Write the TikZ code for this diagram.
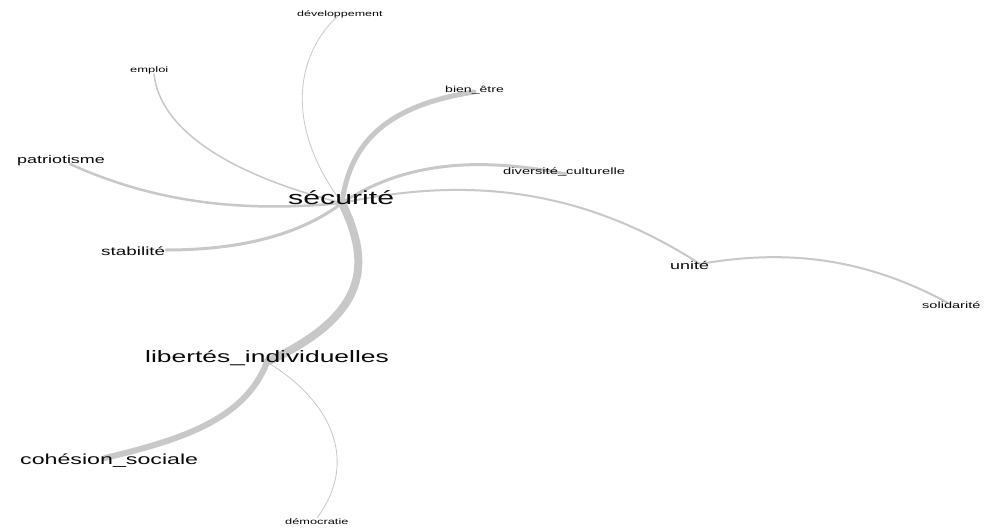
\documentclass[tikz,border=0pt]{standalone}
\usepackage{fontspec}
\usepackage{graphicx}
\setmainfont{Liberation Sans}
\usetikzlibrary{backgrounds}
\definecolor{edgecol}{RGB}{200,200,200}
\definecolor{txtcol}{RGB}{10,10,10}
\newcommand{\lbl}[2]{{\fontsize{#1}{#1}\selectfont\scalebox{1.6}[1]{#2}}}
\tikzset{
  word/.style={anchor=base west, inner sep=0pt, text=txtcol},
  link/.style={draw=edgecol, line cap=round},
}
\begin{document}
\begin{tikzpicture}[x=1pt,y=-1pt]
\useasboundingbox (0,0) rectangle (1000,529);
% vertex points
\coordinate (sec) at (342,203);
\coordinate (lib) at (267,362);
\coordinate (dev) at (338,16);
\coordinate (emp) at (154,74);
\coordinate (bien) at (474,92);
\coordinate (pat) at (70,164);
\coordinate (div) at (566,174);
\coordinate (stab) at (166,250);
\coordinate (uni) at (700,264);
\coordinate (sol) at (948,303);
\coordinate (coh) at (105,458);
\coordinate (dem) at (317,518);
% labels
\node[word] (tdev)  at (297,17)  {\lbl{7.8}{développement}};
\node[word] (temp)  at (130,73)  {\lbl{8.1}{emploi}};
\node[word] (tbien) at (445,93)  {\lbl{8.8}{bien\_être}};
\node[word] (tpat)  at (17,164)  {\lbl{11.2}{patriotisme}};
\node[word] (tsec)  at (288,205) {\lbl{18.9}{sécurité}};
\node[word] (tdiv)  at (503,175) {\lbl{9.2}{diversité\_culturelle}};
\node[word] (tstab) at (101,255) {\lbl{11.8}{stabilité}};
\node[word] (tuni)  at (670,269) {\lbl{11.2}{unité}};
\node[word] (tsol)  at (922,308) {\lbl{9.1}{solidarité}};
\node[word] (tlib)  at (145,362) {\lbl{16.5}{libertés\_individuelles}};
\node[word] (tcoh)  at (20,464)  {\lbl{14.5}{cohésion\_sociale}};
\node[word] (tdem)  at (285,524) {\lbl{8}{démocratie}};
\begin{scope}[on background layer]
\fill[white] (0,0) rectangle (1000,529);
\draw[link, line width=8pt] (sec) .. controls (372,265) and (368,315) .. (lib);
\draw[link, line width=5pt] (sec) .. controls (350,140) and (390,105) .. (bien);
\draw[link, line width=3pt] (sec) .. controls (400,165) and (470,155) .. (div);
\draw[link, line width=2pt] (sec) .. controls (450,180) and (570,180) .. (uni);
\draw[link, line width=2pt] (uni) .. controls (780,250) and (860,255) .. (sol);
\draw[link, line width=2.5pt] (sec) .. controls (250,212) and (160,205) .. (pat);
\draw[link, line width=3pt] (sec) .. controls (300,235) and (240,250) .. (stab);
\draw[link, line width=1.5pt] (sec) .. controls (230,175) and (160,130) .. (emp);
\draw[link, line width=0.8pt] (sec) .. controls (280,120) and (300,50) .. (dev);
\draw[link, line width=6pt] (lib) .. controls (245,420) and (180,440) .. (coh);
\draw[link, line width=0.8pt] (lib) .. controls (330,400) and (360,460) .. (dem);
\end{scope}
\end{tikzpicture}
\end{document}
